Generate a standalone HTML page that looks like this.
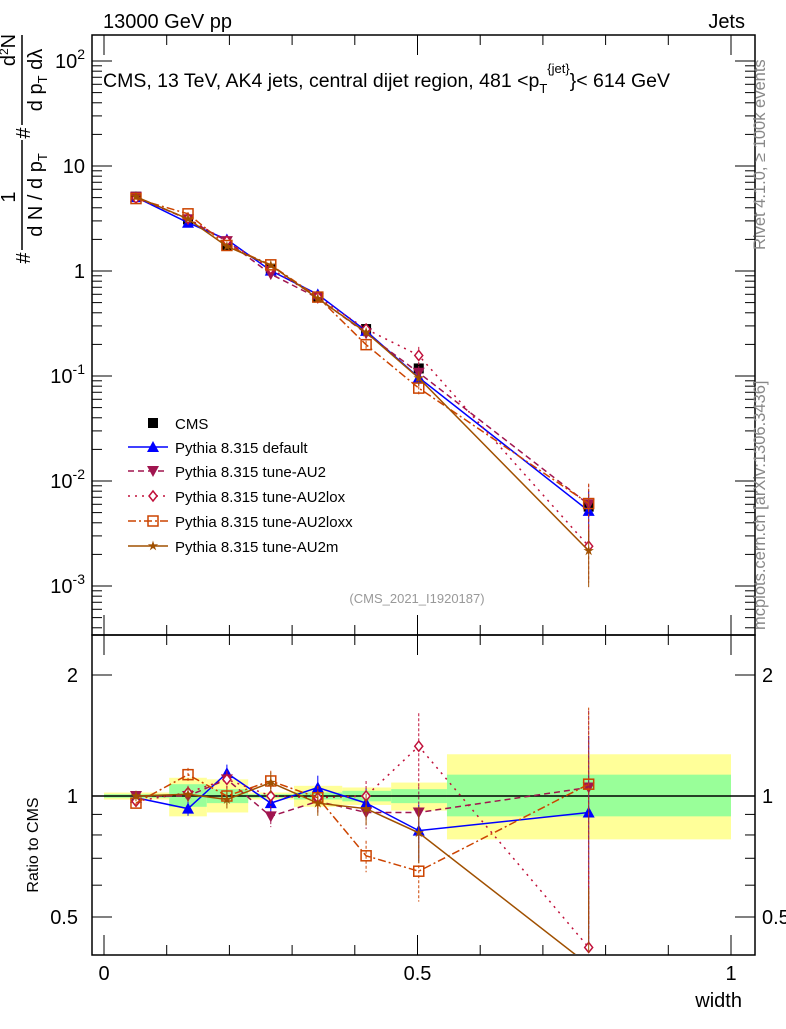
<!DOCTYPE html>
<html><head><meta charset="utf-8"><style>
body{margin:0;background:#fff}
svg{font-family:"Liberation Sans",sans-serif}
</style></head><body>
<svg id="c" width="786" height="1024" xmlns="http://www.w3.org/2000/svg">
<rect width="786" height="1024" fill="#fff"/>
<g id="bands"></g>
<g id="marks"></g>
<rect x="92" y="35" width="663" height="600" fill="none" stroke="#000" stroke-width="1.5"/>
<rect x="92" y="635" width="663" height="320" fill="none" stroke="#000" stroke-width="1.5"/>
<g id="ticks"></g>
<text x="103" y="28" font-size="20">13000 GeV pp</text>
<text x="745" y="28" font-size="20" text-anchor="end">Jets</text>
<text x="103" y="87" font-size="19.5">CMS, 13 TeV, AK4 jets, central dijet region, 481 &lt;p<tspan font-size="13" dy="6">T</tspan><tspan font-size="13" dy="-20">{jet}</tspan><tspan dy="14">}&lt; 614 GeV</tspan></text>
<g font-size="20">
<text transform="translate(30,258) rotate(-90)" text-anchor="middle">#</text>
<text transform="translate(15,197) rotate(-90)" text-anchor="middle">1</text>
<line x1="22" x2="22" y1="140" y2="250" stroke="#000" stroke-width="1.5"/>
<text transform="translate(42,195) rotate(-90)" text-anchor="middle">d N / d p<tspan font-size="13" dy="5">T</tspan></text>
<text transform="translate(30,133) rotate(-90)" text-anchor="middle">#</text>
<text transform="translate(15,50) rotate(-90)" text-anchor="middle">d<tspan font-size="12" dy="-7">2</tspan><tspan dy="7">N</tspan></text>
<line x1="22" x2="22" y1="35" y2="125" stroke="#000" stroke-width="1.5"/>
<text transform="translate(42,80) rotate(-90)" text-anchor="middle">d p<tspan font-size="13" dy="5">T</tspan><tspan dy="-5"> dλ</tspan></text>
</g>
<text transform="translate(38,845) rotate(-90)" font-size="16" text-anchor="middle">Ratio to CMS</text>
<text x="742" y="1007" font-size="20" text-anchor="end">width</text>
<text transform="translate(765,250) rotate(-90)" font-size="16.5" fill="#888">Rivet 4.1.0, ≥ 100k events</text>
<text transform="translate(765,630) rotate(-90)" font-size="16.5" fill="#888">mcplots.cern.ch [arXiv:1306.3436]</text>
<text x="417" y="603" font-size="13" fill="#999" text-anchor="middle">(CMS_2021_I1920187)</text>
<g id="legend"></g>
</svg>
<script>
const xs=[0.051,0.134,0.196,0.266,0.341,0.418,0.502,0.773];
const cms=[5.1,3.1,1.75,1.05,0.57,0.28,0.118,0.0057];
const cmsErr=[0.02,0.03,0.03,0.03,0.04,0.05,0.08,0.2];
const binEdges=[0,0.104,0.164,0.23,0.303,0.38,0.458,0.547,1.0];
const greenHi=[1.01,1.07,1.04,1.01,1.02,1.03,1.04,1.13];
const greenLo=[0.99,0.94,0.96,0.99,0.98,0.97,0.96,0.89];
const yellowHi=[1.02,1.11,1.1,1.02,1.06,1.05,1.08,1.27];
const yellowLo=[0.98,0.89,0.91,0.98,0.94,0.95,0.92,0.78];
const rDefault=[0.99,0.93,1.14,0.96,1.05,0.96,0.82,0.91];
const rAU2=[1.0,1.0,1.1,0.89,0.97,0.91,0.91,1.05];
const rLox=[0.97,1.02,1.1,1.0,0.99,1.0,1.33,0.42];
const rLoxx=[0.96,1.13,1.0,1.09,0.99,0.71,0.65,1.07];
const rAU2m=[1.0,1.01,0.98,1.08,0.96,0.93,0.81,0.38];
const mcErr=[0.03,0.04,0.05,0.06,0.07,0.09,0.16,0.55];
const yTicks=[0.001,0.01,0.1,1,10,100];
const rTicks=[0.5,1,2];
const xTicks=[0,0.5,1];

const NS="http://www.w3.org/2000/svg";
const X=v=>104+v*627;
const Y=v=>271-Math.log10(v)*105;
const R=v=>796-Math.log10(v)*402;
function el(t,a,p){const e=document.createElementNS(NS,t);for(const k in a)e.setAttribute(k,a[k]);p.appendChild(e);return e;}
const bands=document.getElementById('bands'),marks=document.getElementById('marks'),ticks=document.getElementById('ticks'),leg=document.getElementById('legend');
const clipR=v=>Math.max(637,Math.min(953,R(v)));
for(let i=0;i<binEdges.length-1;i++){
 const y=el('rect',{x:X(binEdges[i]),y:R(yellowHi[i]),width:X(binEdges[i+1])-X(binEdges[i]),height:R(yellowLo[i])-R(yellowHi[i]),fill:'#ffff99'},bands);
 
 
 const g=el('rect',{x:X(binEdges[i]),y:R(greenHi[i]),width:X(binEdges[i+1])-X(binEdges[i]),height:R(greenLo[i])-R(greenHi[i]),fill:'#99ff99'},bands);
 
 
}
const one=el('line',{x1:92,x2:755,y1:R(1),y2:R(1),stroke:'#000','stroke-width':1.5},bands);



function marker(type,cx,cy,col,p){
 const s=5;
 if(type==='sq')return el('rect',{x:cx-s,y:cy-s,width:2*s,height:2*s,fill:'#000'},p);
 if(type==='up')return el('polygon',{points:`${cx},${cy-6} ${cx-6},${cy+5} ${cx+6},${cy+5}`,fill:col},p);
 if(type==='dn')return el('polygon',{points:`${cx},${cy+6} ${cx-6},${cy-5} ${cx+6},${cy-5}`,fill:col},p);
 if(type==='dia')return el('polygon',{points:`${cx},${cy-5} ${cx-4},${cy} ${cx},${cy+5} ${cx+4},${cy}`,fill:'#fff',stroke:col,'stroke-width':1.5},p);
 if(type==='osq')return el('rect',{x:cx-5,y:cy-5,width:10,height:10,fill:'none',stroke:col,'stroke-width':1.5},p);
 if(type==='star'){let pts=[];for(let k=0;k<10;k++){const r=k%2?2:5.5,a=-Math.PI/2+k*Math.PI/5;pts.push((cx+r*Math.cos(a)).toFixed(1)+','+(cy+r*Math.sin(a)).toFixed(1));}return el('polygon',{points:pts.join(' '),fill:col},p);}
}
const series=[
 {name:'Pythia 8.315 default',r:rDefault,col:'#0000ff',dash:'',m:'up',id:'default'},
 {name:'Pythia 8.315 tune-AU2',r:rAU2,col:'#a0154f',dash:'6,4',m:'dn',id:'au2'},
 {name:'Pythia 8.315 tune-AU2lox',r:rLox,col:'#c0103a',dash:'2,5',m:'dia',id:'au2lox'},
 {name:'Pythia 8.315 tune-AU2loxx',r:rLoxx,col:'#cc4400',dash:'8,3,2,3',m:'osq',id:'au2loxx'},
 {name:'Pythia 8.315 tune-AU2m',r:rAU2m,col:'#a05000',dash:'',m:'star',id:'au2m'}
];
cms.forEach((v,i)=>{
 const e=el('line',{x1:X(xs[i]),x2:X(xs[i]),y1:Y(v*(1+cmsErr[i])),y2:Y(v*(1-cmsErr[i])),stroke:'#000'},marks);
 
 
 const m=marker('sq',X(xs[i]),Y(v),'#000',marks);
 
 
});
series.forEach(s=>{
 const pm=s.r.map((r,i)=>[X(xs[i]),Y(r*cms[i])]);
 const pr=s.r.map((r,i)=>[X(xs[i]),R(r)]);
 const l1=el('polyline',{points:pm.map(p=>p.join(',')).join(' '),fill:'none',stroke:s.col,'stroke-width':1.5,'stroke-dasharray':s.dash},marks);
 
 
 const cp=el('clipPath',{id:'cl'+s.id},marks);el('rect',{x:92,y:636,width:663,height:318},cp);
 const l2=el('polyline',{points:pr.map(p=>p.join(',')).join(' '),fill:'none',stroke:s.col,'stroke-width':1.5,'stroke-dasharray':s.dash,'clip-path':`url(#cl${s.id})`},marks);
 
 
 s.r.forEach((r,i)=>{
  const e=mcErr[i]*(s.id==='au2lox'&&i==6?1.3:1);
  const b=el('line',{x1:X(xs[i]),x2:X(xs[i]),y1:Y(r*cms[i]*(1+e)),y2:Y(r*cms[i]*Math.max(0.1,1-e)),stroke:s.col,'stroke-dasharray':s.dash?'3,2':''},marks);
  
  
  const b2=el('line',{x1:X(xs[i]),x2:X(xs[i]),y1:clipR(r*(1+e)),y2:clipR(r*Math.max(0.1,1-e)),stroke:s.col,'stroke-dasharray':s.dash?'3,2':''},marks);
  
  
  const m=marker(s.m,X(xs[i]),Y(r*cms[i]),s.col,marks);
  
  
  if(R(r)<950){const m2=marker(s.m,X(xs[i]),R(r),s.col,marks);
  
  }
 });
});
const ly=[423,447,471,496,521,546];
let t=el('text',{x:175,y:ly[0]+6,'font-size':15},leg);t.textContent='CMS';


marker('sq',153,ly[0],'#000',leg);
series.forEach((s,i)=>{
 el('line',{x1:128,x2:168,y1:ly[i+1],y2:ly[i+1],stroke:s.col,'stroke-width':1.5,'stroke-dasharray':s.dash},leg);
 marker(s.m,153,ly[i+1],s.col,leg);
 const tx=el('text',{x:175,y:ly[i+1]+6,'font-size':15},leg);tx.textContent=s.name;
 
 
});
for(let d=-4;d<=2;d++){for(let k=1;k<10;k++){const v=k*Math.pow(10,d);const y=Y(v);if(y<36||y>634)continue;const L=k==1?20:10;
 el('line',{x1:92,x2:92+L,y1:y,y2:y,stroke:'#000'},ticks);el('line',{x1:755,x2:755-L,y1:y,y2:y,stroke:'#000'},ticks);}}
yTicks.forEach(v=>{const e=Math.round(Math.log10(v));const tx=el('text',{x:85,y:Y(v)+7,'font-size':20,'text-anchor':'end'},ticks);
 
 
 if(e==0||e==1)tx.textContent=e==0?'1':'10';else{tx.textContent='10';const ts=el('tspan',{'font-size':14,dy:-9},tx);ts.textContent=String(e);}
});
[0.4,0.5,0.6,0.7,0.8,0.9,1,2].forEach(v=>{const y=R(v);if(y>953)return;const L=(v==0.5||v==1||v==2)?20:10;
 el('line',{x1:92,x2:92+L,y1:y,y2:y,stroke:'#000'},ticks);el('line',{x1:755,x2:755-L,y1:y,y2:y,stroke:'#000'},ticks);});
rTicks.forEach(v=>{const a=el('text',{x:78,y:R(v)+7,'font-size':20,'text-anchor':'end'},ticks);a.textContent=String(v);
 
 
 const b=el('text',{x:762,y:R(v)+7,'font-size':20},ticks);b.textContent=String(v);
 
 });
for(let k=0;k<=10;k++){const x=X(k/10);const L=k%5==0?20:10;
 el('line',{x1:x,x2:x,y1:955,y2:955-L,stroke:'#000'},ticks);el('line',{x1:x,x2:x,y1:635,y2:635+L,stroke:'#000'},ticks);
 el('line',{x1:x,x2:x,y1:35,y2:35+L,stroke:'#000'},ticks);el('line',{x1:x,x2:x,y1:635,y2:635-L,stroke:'#000'},ticks);}
xTicks.forEach(v=>{const a=el('text',{x:X(v),y:980,'font-size':20,'text-anchor':'middle'},ticks);a.textContent=String(v);
 
 });
</script>
</body></html>
